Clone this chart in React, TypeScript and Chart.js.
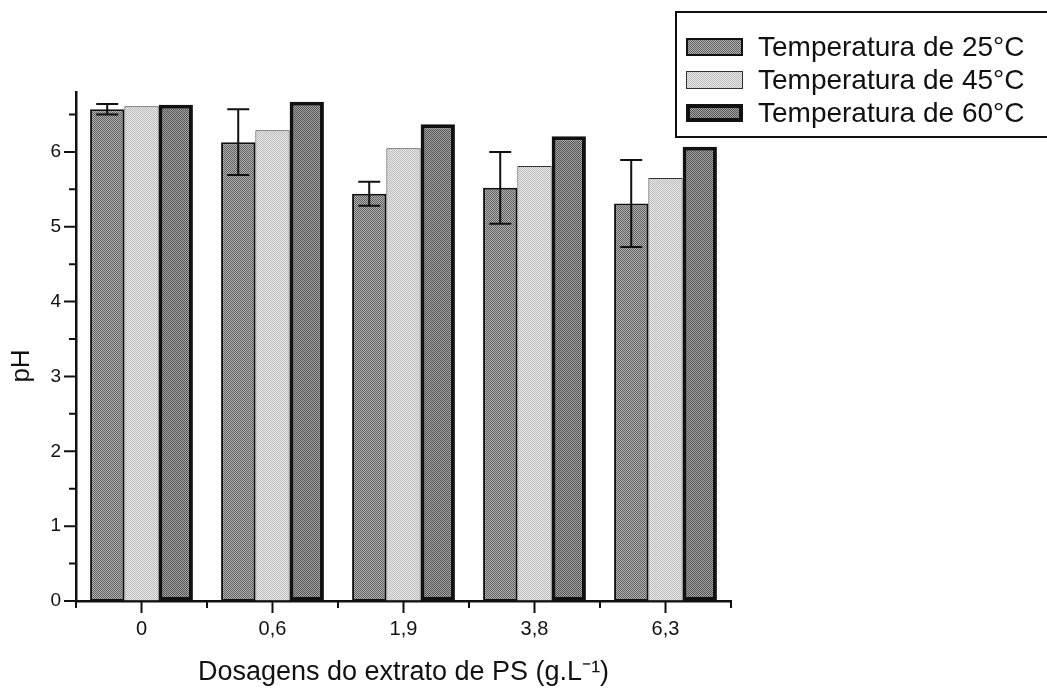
import React, { useEffect, useRef } from "react";
import { Chart, registerables } from "chart.js";

Chart.register(...registerables);

const categories = ["0", "0,6", "1,9", "3,8", "6,3"];
const seriesLabels = ["Temperatura de 25°C", "Temperatura de 45°C", "Temperatura de 60°C"];
const t25 = [6.57, 6.13, 5.44, 5.52, 5.31];
const t25Err = [0.07, 0.44, 0.16, 0.48, 0.58];
const t45 = [6.61, 6.29, 6.05, 5.81, 5.65];
const t60 = [6.63, 6.67, 6.37, 6.21, 6.07];
const yTickValues = [0, 1, 2, 3, 4, 5, 6];
const yTitle = "pH";
const xTitle = "Dosagens do extrato de PS (g.L⁻¹)";

const FONT = "'Liberation Sans', Arial, Helvetica, sans-serif";

function makePattern(a: string, b: string): CanvasPattern | string {
  const c = document.createElement("canvas");
  c.width = 2;
  c.height = 2;
  const g = c.getContext("2d");
  if (!g) return a;
  g.fillStyle = a;
  g.fillRect(0, 0, 2, 2);
  g.fillStyle = b;
  g.fillRect(0, 0, 1, 1);
  g.fillRect(1, 1, 1, 1);
  const p = g.createPattern(c, "repeat");
  return p || a;
}

const errorBarPlugin = {
  id: "errorBars",
  afterDatasetsDraw(chart: any) {
    const ctx = chart.ctx;
    const meta = chart.getDatasetMeta(0);
    const y = chart.scales.y;
    ctx.save();
    ctx.strokeStyle = "#111";
    ctx.lineWidth = 2;
    meta.data.forEach((el: any, i: number) => {
      const v = t25[i];
      const e = t25Err[i];
      const top = y.getPixelForValue(v + e);
      const bot = y.getPixelForValue(v - e);
      const x = el.x;
      ctx.beginPath();
      ctx.moveTo(x, top);
      ctx.lineTo(x, bot);
      ctx.moveTo(x - 11, top);
      ctx.lineTo(x + 11, top);
      ctx.moveTo(x - 11, bot);
      ctx.lineTo(x + 11, bot);
      ctx.stroke();
    });
    ctx.restore();
  },
};

const ticksPlugin = {
  id: "customTicks",
  afterDraw(chart: any) {
    const ctx = chart.ctx;
    const xs = chart.scales.x;
    const ys = chart.scales.y;
    const area = chart.chartArea;
    ctx.save();
    ctx.strokeStyle = "#111";
    ctx.lineWidth = 2;
    ctx.beginPath();
    for (let i = 0; i < categories.length; i++) {
      const px = xs.getPixelForValue(i);
      ctx.moveTo(px, area.bottom);
      ctx.lineTo(px, area.bottom + 12);
    }
    for (let i = 0; i <= categories.length; i++) {
      const px = xs.getPixelForValue(i - 0.5);
      ctx.moveTo(px, area.bottom);
      ctx.lineTo(px, area.bottom + 7);
    }
    for (let v = 0; v <= 6.5; v += 0.5) {
      const py = ys.getPixelForValue(v);
      const len = Number.isInteger(v) ? 12 : 7;
      ctx.moveTo(area.left, py);
      ctx.lineTo(area.left - len, py);
    }
    ctx.stroke();
    // y axis title
    ctx.translate(22, 366);
    ctx.rotate(-Math.PI / 2);
    ctx.fillStyle = "#111";
    ctx.font = `26px ${FONT}`;
    ctx.textAlign = "center";
    ctx.textBaseline = "middle";
    ctx.fillText(yTitle, 0, 0);
    ctx.restore();
  },
};

const legendPlugin = {
  id: "boxLegend",
  afterDraw(chart: any) {
    const ctx = chart.ctx;
    ctx.save();
    ctx.strokeStyle = "#111";
    ctx.lineWidth = 2;
    ctx.strokeRect(676, 12, 420, 125);
    const rows = [47, 80, 113];
    chart.data.datasets.forEach((ds: any, i: number) => {
      const cy = rows[i];
      const bw = ds.borderWidth;
      ctx.fillStyle = ds.backgroundColor;
      ctx.fillRect(686, cy - 9, 57, 18);
      ctx.strokeStyle = ds.borderColor;
      ctx.lineWidth = bw;
      ctx.strokeRect(686 + bw / 2, cy - 9 + bw / 2, 57 - bw, 18 - bw);
      ctx.fillStyle = "#111";
      ctx.font = `28px ${FONT}`;
      ctx.textBaseline = "middle";
      ctx.textAlign = "left";
      ctx.fillText(ds.label, 758, cy + 1);
    });
    ctx.restore();
  },
};

export default function App() {
  const ref = useRef<HTMLCanvasElement>(null);

  useEffect(() => {
    if (!ref.current) return;
    const p25 = makePattern("#b4b4b4", "#5e5e5e");
    const p45 = makePattern("#e8e8e8", "#bcbcbc");
    const p60 = makePattern("#a6a6a6", "#535353");
    const chart = new Chart(ref.current, {
      type: "bar",
      data: {
        labels: categories,
        datasets: [
          {
            label: seriesLabels[0],
            data: t25,
            backgroundColor: p25 as any,
            borderColor: "#111",
            borderWidth: 2,
            borderSkipped: false,
            categoryPercentage: 0.785,
            barPercentage: 1,
          },
          {
            label: seriesLabels[1],
            data: t45,
            backgroundColor: p45 as any,
            borderColor: "#333",
            borderWidth: 1,
            borderSkipped: false,
            categoryPercentage: 0.785,
            barPercentage: 1,
          },
          {
            label: seriesLabels[2],
            data: t60,
            backgroundColor: p60 as any,
            borderColor: "#111",
            borderWidth: 4,
            borderSkipped: false,
            categoryPercentage: 0.785,
            barPercentage: 1,
          },
        ],
      },
      options: {
        animation: false,
        responsive: false,
        maintainAspectRatio: false,
        layout: { padding: { left: 0, right: 316, top: 92, bottom: 0 } },
        plugins: {
          legend: { display: false },
          tooltip: { enabled: false },
        },
        scales: {
          x: {
            offset: true,
            grid: { display: false, drawTicks: false },
            border: { display: true, color: "#111", width: 2.5 },
            ticks: {
              color: "#111",
              font: { family: FONT, size: 20 },
              padding: 16,
              maxRotation: 0,
            },
            title: {
              display: true,
              text: xTitle,
              color: "#111",
              font: { family: FONT, size: 27 },
              padding: { top: 0, bottom: 0 },
            },
            afterFit(scale: any) {
              scale.height = 88;
            },
          },
          y: {
            min: 0,
            max: 6.8,
            afterBuildTicks(scale: any) {
              scale.ticks = yTickValues.map((v) => ({ value: v }));
            },
            grid: { display: false, drawTicks: false },
            border: { display: true, color: "#111", width: 2.5 },
            ticks: {
              color: "#111",
              font: { family: FONT, size: 19 },
              padding: 15,
            },
            title: { display: false },
            afterFit(scale: any) {
              scale.width = 76;
            },
          },
        },
      },
      plugins: [errorBarPlugin, ticksPlugin, legendPlugin],
    });
    return () => chart.destroy();
  }, []);

  return (
    <div style={{ position: "fixed", left: 0, top: 0, width: 1047, height: 689, background: "#fff" }}>
      <canvas ref={ref} width={1047} height={689} style={{ width: 1047, height: 689, display: "block" }} />
    </div>
  );
}
